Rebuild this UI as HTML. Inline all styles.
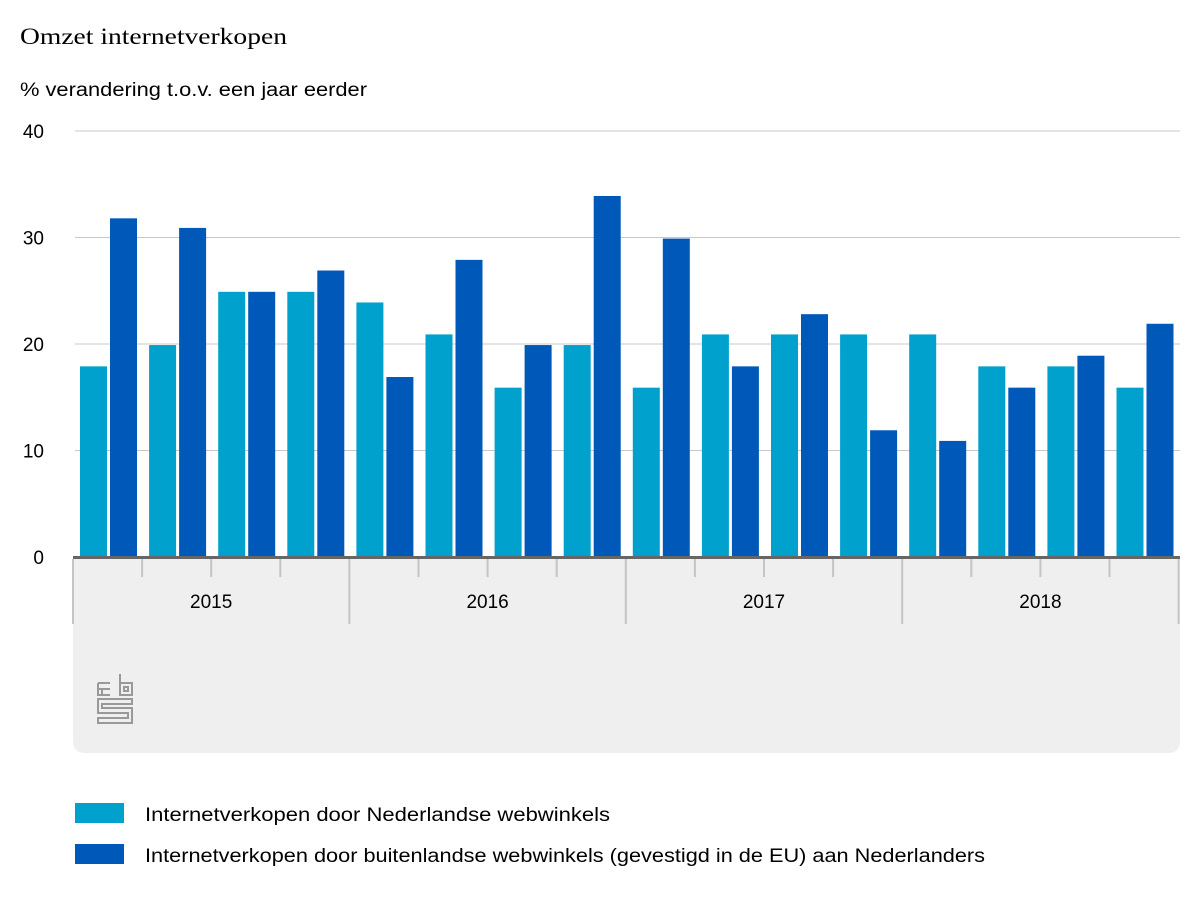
<!DOCTYPE html>
<html><head><meta charset="utf-8"><style>
body{margin:0;background:#fff;font-family:"Liberation Sans",sans-serif;}
</style></head><body>
<svg width="1200" height="900" viewBox="0 0 1200 900" xmlns="http://www.w3.org/2000/svg">
<text x="20" y="44" font-family="Liberation Serif, serif" font-size="23" fill="#000" textLength="267" lengthAdjust="spacingAndGlyphs">Omzet internetverkopen</text>
<text x="20" y="96" font-size="19" fill="#000" textLength="347" lengthAdjust="spacingAndGlyphs">% verandering t.o.v. een jaar eerder</text>
<path d="M73 558 H1180 V741 Q1180 753 1168 753 H85 Q73 753 73 741 Z" fill="#efefef"/>
<g id="grid"></g>
<g id="bars"></g>
<g id="xaxis"></g>
<g transform="translate(97,673)" fill="none" stroke="#999" stroke-width="2">
<path d="M1 10 H13 M1 10 V22 H13 M1 16 H13 M5 16 V22"/>
<path d="M23 1 V22 H35 V10 H23 M27 14 H31 V18 H27 Z"/>
<path d="M1 26 H35 V31 H5 V35 H35 V50 H1 V45 H31 V40 H1 Z"/>
</g>
<rect x="75" y="803" width="49" height="20" fill="#00a1cd"/>
<text x="145" y="821" font-size="19" fill="#000" textLength="465" lengthAdjust="spacingAndGlyphs">Internetverkopen door Nederlandse webwinkels</text>
<rect x="75" y="844" width="49" height="20" fill="#0058b8"/>
<text x="145" y="862" font-size="19" fill="#000" textLength="840" lengthAdjust="spacingAndGlyphs">Internetverkopen door buitenlandse webwinkels (gevestigd in de EU) aan Nederlanders</text>
</svg>
<script>
const years=["2015","2016","2017","2018"];
const nlValues=[17.9,19.9,24.9,24.9,23.9,20.9,15.9,19.9,15.9,20.9,20.9,20.9,20.9,17.9,17.9,15.9];
const euValues=[31.8,30.9,24.9,26.9,16.9,27.9,19.9,33.9,29.9,17.9,22.8,11.9,10.9,15.9,18.9,21.9];
const yTicks=[0,10,20,30,40];
const NS="http://www.w3.org/2000/svg";
const x0=73,step=69.1,y0=557,yMax=40,yTop=131;
const y=v=>y0-(v/yMax)*(y0-yTop);
const gx=i=>x0+i*step;
function mk(t,a,p){const e=document.createElementNS(NS,t);for(const k in a)e.setAttribute(k,a[k]);p.appendChild(e);return e;}
const grid=document.getElementById('grid'),bars=document.getElementById('bars'),xa=document.getElementById('xaxis');
yTicks.forEach(v=>{
 if(v>0){const l=mk('line',{x1:75,x2:1180,y1:y(v),y2:y(v),stroke:'#c8c8c8','stroke-width':1},grid);
 
 }
 const t=mk('text',{x:44,y:y(v)+7,'font-size':19,fill:'#000','text-anchor':'end'},grid);t.textContent=v;
 
 
});
nlValues.forEach((v,i)=>{
 const r=mk('rect',{x:gx(i)+7,y:y(v),width:27,height:y0-y(v),fill:'#00a1cd'},bars);
 
 
});
euValues.forEach((v,i)=>{
 const r=mk('rect',{x:gx(i)+37,y:y(v),width:27,height:y0-y(v),fill:'#0058b8'},bars);
 
 
});
const ax=mk('line',{x1:73,x2:1180,y1:557.5,y2:557.5,stroke:'#666','stroke-width':3},xa);


for(let i=0;i<=nlValues.length;i++){
 const isYear=i%4===0;
 const t=mk('line',{x1:gx(i),x2:gx(i),y1:559,y2:isYear?624:577,stroke:'#c4c4c4','stroke-width':2},xa);
 
 
}
years.forEach((yr,j)=>{
 const t=mk('text',{x:gx(j*4+2),y:608,'font-size':19,fill:'#000','text-anchor':'middle'},xa);t.textContent=yr;
 
 
});
</script>
</body></html>
